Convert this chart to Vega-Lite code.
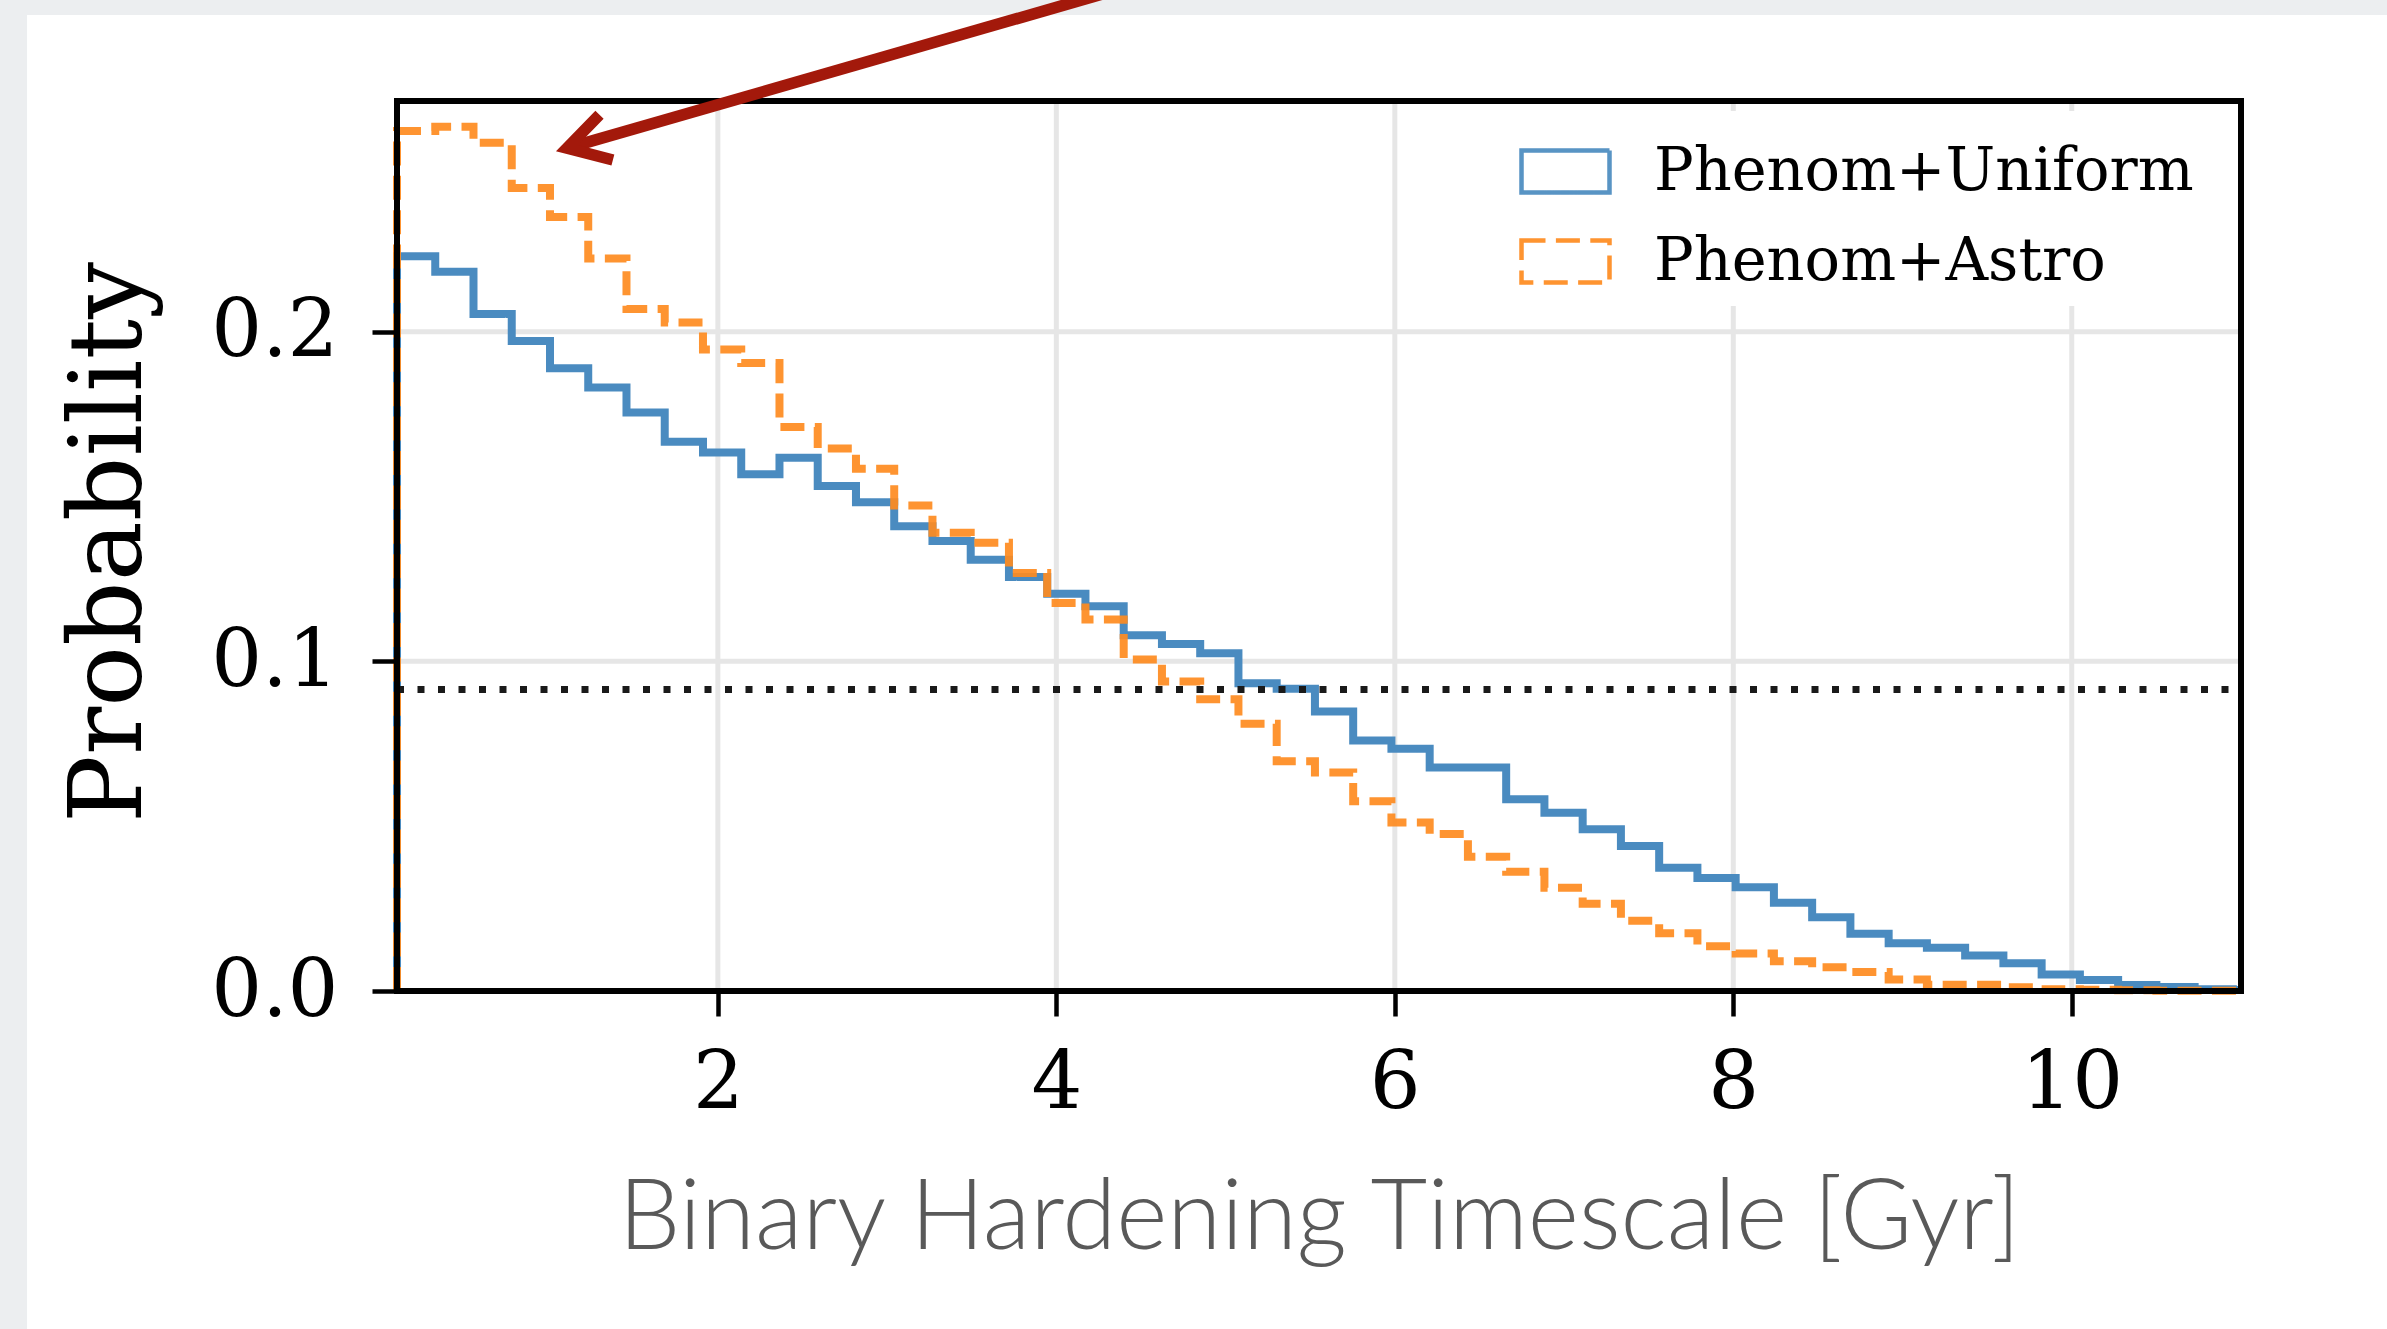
{
  "$schema": "https://vega.github.io/schema/vega-lite/v6.json",
  "width": 1844,
  "height": 890,
  "autosize": {"type": "none"},
  "padding": {"left": 397, "top": 101, "right": 146, "bottom": 338},
  "background": "#eceef0",
  "config": {
    "view": {"stroke": null},
    "axis": {
      "domain": false, "grid": false, "ticks": true, "tickColor": "black", "tickWidth": 4.5, "tickSize": 25,
      "labelFont": "DejaVu Serif", "labelFontSize": 80, "labelColor": "black", "labelFlush": false,
      "labelOverlap": false, "labelBound": false, "zindex": 1
    },
    "legend": {"zindex": 1}
  },
  "datasets": {
    "hist": [
      {"series": "Phenom+Uniform", "i": 0, "x": 0.104, "y": 0},
      {"series": "Phenom+Uniform", "i": 1, "x": 0.104, "y": 0.2229},
      {"series": "Phenom+Uniform", "i": 2, "x": 0.330, "y": 0.2182},
      {"series": "Phenom+Uniform", "i": 3, "x": 0.556, "y": 0.2054},
      {"series": "Phenom+Uniform", "i": 4, "x": 0.782, "y": 0.1972},
      {"series": "Phenom+Uniform", "i": 5, "x": 1.008, "y": 0.1889},
      {"series": "Phenom+Uniform", "i": 6, "x": 1.234, "y": 0.1831},
      {"series": "Phenom+Uniform", "i": 7, "x": 1.460, "y": 0.1755},
      {"series": "Phenom+Uniform", "i": 8, "x": 1.686, "y": 0.1666},
      {"series": "Phenom+Uniform", "i": 9, "x": 1.912, "y": 0.1634},
      {"series": "Phenom+Uniform", "i": 10, "x": 2.138, "y": 0.1568},
      {"series": "Phenom+Uniform", "i": 11, "x": 2.364, "y": 0.1618},
      {"series": "Phenom+Uniform", "i": 12, "x": 2.590, "y": 0.1532},
      {"series": "Phenom+Uniform", "i": 13, "x": 2.816, "y": 0.1483},
      {"series": "Phenom+Uniform", "i": 14, "x": 3.042, "y": 0.1410},
      {"series": "Phenom+Uniform", "i": 15, "x": 3.268, "y": 0.1365},
      {"series": "Phenom+Uniform", "i": 16, "x": 3.494, "y": 0.1308},
      {"series": "Phenom+Uniform", "i": 17, "x": 3.720, "y": 0.1256},
      {"series": "Phenom+Uniform", "i": 18, "x": 3.946, "y": 0.1205},
      {"series": "Phenom+Uniform", "i": 19, "x": 4.172, "y": 0.1167},
      {"series": "Phenom+Uniform", "i": 20, "x": 4.398, "y": 0.1079},
      {"series": "Phenom+Uniform", "i": 21, "x": 4.624, "y": 0.1053},
      {"series": "Phenom+Uniform", "i": 22, "x": 4.850, "y": 0.1025},
      {"series": "Phenom+Uniform", "i": 23, "x": 5.076, "y": 0.0934},
      {"series": "Phenom+Uniform", "i": 24, "x": 5.302, "y": 0.0917},
      {"series": "Phenom+Uniform", "i": 25, "x": 5.528, "y": 0.0848},
      {"series": "Phenom+Uniform", "i": 26, "x": 5.754, "y": 0.0760},
      {"series": "Phenom+Uniform", "i": 27, "x": 5.980, "y": 0.0735},
      {"series": "Phenom+Uniform", "i": 28, "x": 6.206, "y": 0.0678},
      {"series": "Phenom+Uniform", "i": 29, "x": 6.432, "y": 0.0678},
      {"series": "Phenom+Uniform", "i": 30, "x": 6.658, "y": 0.0582},
      {"series": "Phenom+Uniform", "i": 31, "x": 6.884, "y": 0.0541},
      {"series": "Phenom+Uniform", "i": 32, "x": 7.110, "y": 0.0491},
      {"series": "Phenom+Uniform", "i": 33, "x": 7.336, "y": 0.0440},
      {"series": "Phenom+Uniform", "i": 34, "x": 7.562, "y": 0.0374},
      {"series": "Phenom+Uniform", "i": 35, "x": 7.788, "y": 0.0343},
      {"series": "Phenom+Uniform", "i": 36, "x": 8.014, "y": 0.0315},
      {"series": "Phenom+Uniform", "i": 37, "x": 8.240, "y": 0.0268},
      {"series": "Phenom+Uniform", "i": 38, "x": 8.466, "y": 0.0224},
      {"series": "Phenom+Uniform", "i": 39, "x": 8.692, "y": 0.0174},
      {"series": "Phenom+Uniform", "i": 40, "x": 8.918, "y": 0.0145},
      {"series": "Phenom+Uniform", "i": 41, "x": 9.144, "y": 0.0131},
      {"series": "Phenom+Uniform", "i": 42, "x": 9.370, "y": 0.0108},
      {"series": "Phenom+Uniform", "i": 43, "x": 9.596, "y": 0.0084},
      {"series": "Phenom+Uniform", "i": 44, "x": 9.822, "y": 0.0050},
      {"series": "Phenom+Uniform", "i": 45, "x": 10.048, "y": 0.0033},
      {"series": "Phenom+Uniform", "i": 46, "x": 10.274, "y": 0.0018},
      {"series": "Phenom+Uniform", "i": 47, "x": 10.500, "y": 0.0012},
      {"series": "Phenom+Uniform", "i": 48, "x": 10.726, "y": 0.0005},
      {"series": "Phenom+Uniform", "i": 49, "x": 10.952, "y": 0.0003},
      {"series": "Phenom+Uniform", "i": 50, "x": 11.0, "y": 0.0003},
      {"series": "Phenom+Astro", "i": 0, "x": 0.104, "y": 0},
      {"series": "Phenom+Astro", "i": 1, "x": 0.104, "y": 0.2609},
      {"series": "Phenom+Astro", "i": 2, "x": 0.330, "y": 0.2622},
      {"series": "Phenom+Astro", "i": 3, "x": 0.556, "y": 0.2573},
      {"series": "Phenom+Astro", "i": 4, "x": 0.782, "y": 0.2436},
      {"series": "Phenom+Astro", "i": 5, "x": 1.008, "y": 0.2348},
      {"series": "Phenom+Astro", "i": 6, "x": 1.234, "y": 0.2222},
      {"series": "Phenom+Astro", "i": 7, "x": 1.460, "y": 0.2069},
      {"series": "Phenom+Astro", "i": 8, "x": 1.686, "y": 0.2028},
      {"series": "Phenom+Astro", "i": 9, "x": 1.912, "y": 0.1946},
      {"series": "Phenom+Astro", "i": 10, "x": 2.138, "y": 0.1905},
      {"series": "Phenom+Astro", "i": 11, "x": 2.364, "y": 0.1711},
      {"series": "Phenom+Astro", "i": 12, "x": 2.590, "y": 0.1646},
      {"series": "Phenom+Astro", "i": 13, "x": 2.816, "y": 0.1584},
      {"series": "Phenom+Astro", "i": 14, "x": 3.042, "y": 0.1473},
      {"series": "Phenom+Astro", "i": 15, "x": 3.268, "y": 0.1390},
      {"series": "Phenom+Astro", "i": 16, "x": 3.494, "y": 0.1360},
      {"series": "Phenom+Astro", "i": 17, "x": 3.720, "y": 0.1268},
      {"series": "Phenom+Astro", "i": 18, "x": 3.946, "y": 0.1177},
      {"series": "Phenom+Astro", "i": 19, "x": 4.172, "y": 0.1127},
      {"series": "Phenom+Astro", "i": 20, "x": 4.398, "y": 0.1006},
      {"series": "Phenom+Astro", "i": 21, "x": 4.624, "y": 0.0939},
      {"series": "Phenom+Astro", "i": 22, "x": 4.850, "y": 0.0885},
      {"series": "Phenom+Astro", "i": 23, "x": 5.076, "y": 0.0811},
      {"series": "Phenom+Astro", "i": 24, "x": 5.302, "y": 0.0697},
      {"series": "Phenom+Astro", "i": 25, "x": 5.528, "y": 0.0663},
      {"series": "Phenom+Astro", "i": 26, "x": 5.754, "y": 0.0576},
      {"series": "Phenom+Astro", "i": 27, "x": 5.980, "y": 0.0511},
      {"series": "Phenom+Astro", "i": 28, "x": 6.206, "y": 0.0476},
      {"series": "Phenom+Astro", "i": 29, "x": 6.432, "y": 0.0407},
      {"series": "Phenom+Astro", "i": 30, "x": 6.658, "y": 0.0362},
      {"series": "Phenom+Astro", "i": 31, "x": 6.884, "y": 0.0313},
      {"series": "Phenom+Astro", "i": 32, "x": 7.110, "y": 0.0265},
      {"series": "Phenom+Astro", "i": 33, "x": 7.336, "y": 0.0213},
      {"series": "Phenom+Astro", "i": 34, "x": 7.562, "y": 0.0175},
      {"series": "Phenom+Astro", "i": 35, "x": 7.788, "y": 0.0136},
      {"series": "Phenom+Astro", "i": 36, "x": 8.014, "y": 0.0114},
      {"series": "Phenom+Astro", "i": 37, "x": 8.240, "y": 0.0090},
      {"series": "Phenom+Astro", "i": 38, "x": 8.466, "y": 0.0072},
      {"series": "Phenom+Astro", "i": 39, "x": 8.692, "y": 0.0058},
      {"series": "Phenom+Astro", "i": 40, "x": 8.918, "y": 0.0035},
      {"series": "Phenom+Astro", "i": 41, "x": 9.144, "y": 0.0019},
      {"series": "Phenom+Astro", "i": 42, "x": 9.370, "y": 0.0019},
      {"series": "Phenom+Astro", "i": 43, "x": 9.596, "y": 0.0011},
      {"series": "Phenom+Astro", "i": 44, "x": 9.822, "y": 0.0005},
      {"series": "Phenom+Astro", "i": 45, "x": 10.048, "y": 0.0004},
      {"series": "Phenom+Astro", "i": 46, "x": 10.274, "y": 0.0002},
      {"series": "Phenom+Astro", "i": 47, "x": 10.500, "y": 0.0001},
      {"series": "Phenom+Astro", "i": 48, "x": 10.726, "y": 0.0001},
      {"series": "Phenom+Astro", "i": 49, "x": 10.952, "y": 0.0001},
      {"series": "Phenom+Astro", "i": 50, "x": 11.0, "y": 0.0001}
    ],
    "arrow": [
      {"part": "shaft", "i": 0, "x": 4.5598, "y": 0.3067},
      {"part": "shaft", "i": 1, "x": 1.1085, "y": 0.2557},
      {"part": "head", "i": 0, "x": 1.3005, "y": 0.2658},
      {"part": "head", "i": 1, "x": 1.1085, "y": 0.2557},
      {"part": "head", "i": 2, "x": 1.3797, "y": 0.2521}
    ],
    "gx": [{"x": 2}, {"x": 4}, {"x": 6}, {"x": 8}, {"x": 10}],
    "gy": [{"y": 0.1}, {"y": 0.2}]
  },
  "layer": [
    {
      "data": {"values": [{}]},
      "mark": {"type": "rect", "fill": "white"},
      "encoding": {
        "x": {"datum": -2.082, "type": "quantitative", "title": "Binary Hardening Timescale [Gyr]"},
        "x2": {"datum": 13},
        "y": {"datum": 0.2961, "type": "quantitative", "title": "Probability"},
        "y2": {"datum": -0.3}
      }
    },
    {
      "data": {"name": "gx"},
      "mark": {"type": "rule", "color": "#e6e6e6", "strokeWidth": 5},
      "encoding": {
        "x": {"field": "x", "type": "quantitative", "title": "Binary Hardening Timescale [Gyr]"}
      }
    },
    {
      "data": {"name": "gy"},
      "mark": {"type": "rule", "color": "#e6e6e6", "strokeWidth": 5},
      "encoding": {
        "y": {"field": "y", "type": "quantitative", "title": "Probability"}
      }
    },
    {
      "data": {"name": "hist"},
      "transform": [{"filter": "datum.series === 'Phenom+Uniform'"}],
      "mark": {"type": "line", "interpolate": "step-after", "strokeWidth": 8, "strokeCap": "butt", "strokeJoin": "miter"},
      "encoding": {
        "x": {
          "field": "x", "type": "quantitative", "title": "Binary Hardening Timescale [Gyr]",
          "scale": {"domain": [0.104, 11.0], "nice": false, "zero": false},
          "axis": {
            "values": [2, 4, 6, 8, 10], "format": "d", "labelPadding": 28, "zindex": 1,
            "titleFont": "Lato", "titleFontWeight": 300, "titleFontSize": 98, "titleColor": "#595959",
            "titleX": 922, "titleY": 257, "titleBaseline": "alphabetic", "titleAlign": "center"
          }
        },
        "y": {
          "field": "y", "type": "quantitative", "title": "Probability",
          "scale": {"domain": [0, 0.27], "nice": false, "zero": false},
          "axis": {
            "values": [0, 0.1, 0.2], "format": ".1f", "labelPadding": 34, "zindex": 1,
            "titleFont": "DejaVu Serif", "titleFontWeight": "normal", "titleFontSize": 101, "titleColor": "black",
            "titleX": -257, "titleY": 441, "titleAngle": -90, "titleBaseline": "alphabetic", "titleAlign": "center"
          }
        },
        "color": {
          "field": "series", "type": "nominal",
          "scale": {"domain": ["Phenom+Uniform", "Phenom+Astro"], "range": ["#4a8bc0", "#fe8b1f"]},
          "legend": {
            "title": null, "orient": "none", "legendX": 1108, "legendY": 10,
            "symbolType": "M-1,-0.48H1V0.48H-1Z", "symbolSize": 7744, "symbolStrokeWidth": 4.5,
            "symbolFillColor": "white", "labelFont": "DejaVu Serif", "labelFontSize": 59, "labelColor": "black",
            "labelOffset": 42, "rowPadding": 13, "padding": 14, "fillColor": "white", "labelLimit": 0, "zindex": 1
          }
        },
        "strokeDash": {
          "field": "series", "type": "nominal",
          "scale": {"domain": ["Phenom+Uniform", "Phenom+Astro"], "range": [[1, 0], [24, 10.4]]},
          "legend": {
            "title": null, "orient": "none", "legendX": 1108, "legendY": 10,
            "symbolType": "M-1,-0.48H1V0.48H-1Z", "symbolSize": 7744, "symbolStrokeWidth": 4.5,
            "symbolFillColor": "white", "labelFont": "DejaVu Serif", "labelFontSize": 59, "labelColor": "black",
            "labelOffset": 42, "rowPadding": 13, "padding": 14, "fillColor": "white", "labelLimit": 0, "zindex": 1
          }
        },
        "order": {"field": "i", "type": "quantitative"}
      }
    },
    {
      "data": {"name": "hist"},
      "transform": [{"filter": "datum.series === 'Phenom+Astro'"}],
      "mark": {"type": "line", "interpolate": "step-after", "strokeWidth": 8, "strokeCap": "butt", "strokeJoin": "miter", "opacity": 0.92},
      "encoding": {
        "x": {"field": "x", "type": "quantitative", "title": "Binary Hardening Timescale [Gyr]"},
        "y": {"field": "y", "type": "quantitative", "title": "Probability"},
        "color": {"field": "series", "type": "nominal"},
        "strokeDash": {"field": "series", "type": "nominal"},
        "order": {"field": "i", "type": "quantitative"}
      }
    },
    {
      "data": {"values": [{}]},
      "mark": {"type": "rule", "color": "#1a1a1a", "strokeWidth": 7, "strokeDash": [7, 13.5]},
      "encoding": {
        "x": {"datum": 0.104, "type": "quantitative", "title": "Binary Hardening Timescale [Gyr]"},
        "x2": {"datum": 11.0},
        "y": {"datum": 0.0915, "type": "quantitative", "title": "Probability"}
      }
    },
    {
      "data": {"values": [{}]},
      "mark": {"type": "rect", "filled": false, "stroke": "black", "strokeWidth": 6},
      "encoding": {
        "x": {"datum": 0.104, "type": "quantitative", "title": "Binary Hardening Timescale [Gyr]"},
        "x2": {"datum": 11.0},
        "y": {"datum": 0, "type": "quantitative", "title": "Probability"},
        "y2": {"datum": 0.27}
      }
    },
    {
      "data": {"name": "arrow"},
      "mark": {"type": "line", "color": "#a3190b", "strokeWidth": 11.5, "strokeCap": "butt", "strokeJoin": "miter"},
      "encoding": {
        "x": {"field": "x", "type": "quantitative", "title": "Binary Hardening Timescale [Gyr]"},
        "y": {"field": "y", "type": "quantitative", "title": "Probability"},
        "detail": {"field": "part", "type": "nominal"},
        "order": {"field": "i", "type": "quantitative"}
      }
    }
  ]
}
